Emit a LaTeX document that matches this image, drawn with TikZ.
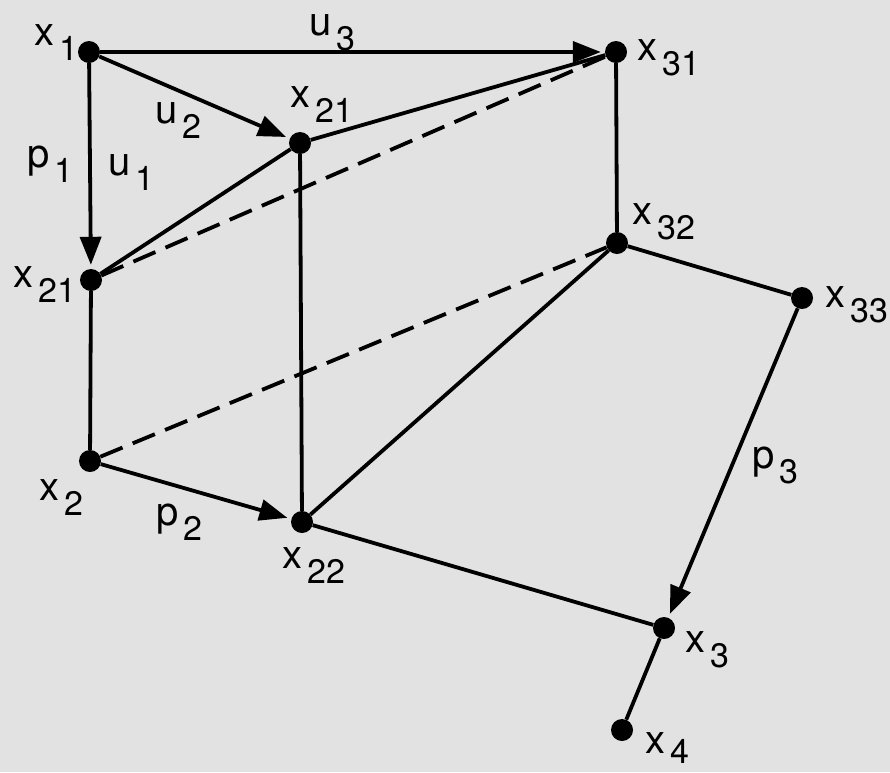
\documentclass[tikz,border=0pt]{standalone}
\usepackage{fontspec}
\setmainfont{TeX Gyre Heros}
\usetikzlibrary{arrows.meta}
\definecolor{bg}{RGB}{226,226,226}
\newcommand{\lab}[3][-15pt]{#2\hspace{5pt}\raisebox{#1}{\fontsize{34}{34}\selectfont #3}}
\begin{document}
\begin{tikzpicture}[x=1pt,y=-1pt,
  dot/.style={circle,fill=black,inner sep=0pt,minimum size=22pt},
  edge/.style={line width=3.8pt},
  dashedge/.style={line width=3.8pt,dash pattern=on 24pt off 11pt},
  arr/.style={line width=3.8pt,-{Triangle[length=28pt,width=21pt]},shorten >=4pt},
  lbl/.style={anchor=base west,inner sep=0pt,font=\fontsize{40}{42}\selectfont}]
\fill[bg] (0,0) rectangle (890,772);
\useasboundingbox (0,0) rectangle (890,772);

% vertices
\node[dot] (x1)  at (89,52) {};
\node[dot] (x31) at (616,52) {};
\node[dot] (x21t) at (300,143) {};
\node[dot] (x21l) at (91,280) {};
\node[dot] (x32) at (617,243) {};
\node[dot] (x33) at (802,298) {};
\node[dot] (x2)  at (90,461) {};
\node[dot] (x22) at (302,522) {};
\node[dot] (x3)  at (664,628) {};
\node[dot] (x4)  at (622,730) {};

% connectors
\draw[arr] (x1) -- (x31);
\draw[arr] (x1) -- (x21t);
\draw[arr] (x1) -- (x21l);
\draw[edge] (x21t) -- (x31);
\draw[dashedge] (x21l) -- (x31);
\draw[edge] (x21l) -- (x21t);
\draw[edge] (x21t) -- (x22);
\draw[edge] (x31) -- (x32);
\draw[edge] (x21l) -- (x2);
\draw[dashedge] (x2) -- (x32);
\draw[arr] (x2) -- (x22);
\draw[edge] (x22) -- (x32);
\draw[edge] (x32) -- (x33);
\draw[arr] (x33) -- (x3);
\draw[edge] (x22) -- (x3);
\draw[edge] (x3) -- (x4);

% labels
\node[lbl] (lx1)  at (34,45)   {\lab{x}{1}};
\node[lbl] (lx21t) at (290,107) {\lab{x}{21}};
\node[lbl] (lx21l) at (13,287)  {\lab{x}{21}};
\node[lbl] (lx31) at (637,60)  {\lab{x}{31}};
\node[lbl] (lx32) at (632,224) {\lab{x}{32}};
\node[lbl] (lx33) at (825,307) {\lab{x}{33}};
\node[lbl] (lx2)  at (39,500)  {\lab{x}{2}};
\node[lbl] (lx22) at (282,568) {\lab{x}{22}};
\node[lbl] (lx3)  at (685,652) {\lab{x}{3}};
\node[lbl] (lx4)  at (645,753) {\lab[-10pt]{x}{4}};
\node[lbl] (lu3)  at (309,35)  {\lab{u}{3}};
\node[lbl] (lu2)  at (155,123) {\lab{u}{2}};
\node[lbl] (lu1)  at (108,175) {\lab{u}{1}};
\node[lbl] (lp1)  at (27,167)  {\lab{p}{1}};
\node[lbl] (lp2)  at (156,525) {\lab{p}{2}};
\node[lbl] (lp3)  at (752,468) {\lab{p}{3}};
\end{tikzpicture}
\end{document}
